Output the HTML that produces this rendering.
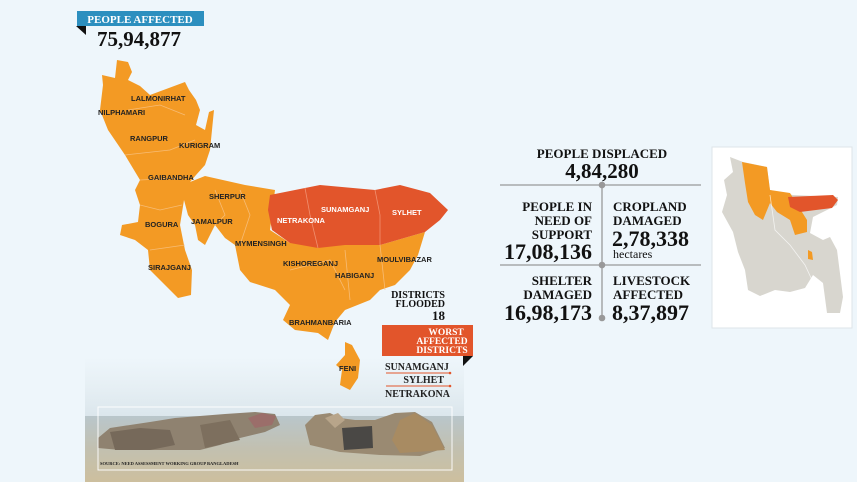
<!DOCTYPE html>
<html><head><meta charset="utf-8"><style>
html,body{margin:0;padding:0;background:#eef6fb;}
svg{display:block}
text{font-family:"Liberation Serif",serif;font-weight:bold;}
.d text{font-family:"Liberation Sans",sans-serif;font-weight:bold;font-size:7.5px;fill:#222;}
.w text{fill:#fff;}
</style></head><body>
<svg width="857" height="482" viewBox="0 0 857 482" xmlns="http://www.w3.org/2000/svg">
<defs>
<linearGradient id="sky" x1="0" y1="0" x2="0" y2="1"><stop offset="0" stop-color="#eef6fb"/><stop offset="0.5" stop-color="#e6eff4"/><stop offset="1" stop-color="#dbe6ec"/></linearGradient>
<linearGradient id="wat" x1="0" y1="0" x2="0" y2="1"><stop offset="0" stop-color="#b9c6cb"/><stop offset="0.5" stop-color="#c2c0b0"/><stop offset="1" stop-color="#cdbf9e"/></linearGradient>
</defs>
<rect width="857" height="482" fill="#eef6fb"/>
<!-- header -->
<rect x="77" y="11" width="127" height="15" fill="#2c8fbf"/>
<text x="140" y="23" font-size="11" fill="#fff" text-anchor="middle">PEOPLE AFFECTED</text>
<polygon points="76,26 86,26 86,35" fill="#111"/>
<text x="97" y="46" font-size="21" fill="#111">75,94,877</text>
<!-- photo -->
<rect x="85" y="357" width="379" height="60" fill="url(#sky)"/>
<rect x="85" y="416" width="379" height="66" fill="url(#wat)"/>
<polygon points="98,438 110,428 130,425 150,422 175,418 200,416 225,414 255,412 275,414 280,425 265,432 240,438 220,445 200,450 160,450 120,450 98,448" fill="#8f8270"/>
<polygon points="110,432 140,428 170,430 175,445 150,450 115,450" fill="#76695a"/>
<polygon points="200,425 230,420 240,440 205,448" fill="#7d6f5e"/>
<polygon points="248,418 262,413 276,416 272,425 255,428" fill="#9b6e6a"/>
<polygon points="305,425 315,415 330,413 340,418 355,420 375,420 395,413 415,412 432,422 445,448 420,456 380,455 340,452 310,445" fill="#9a8a72"/>
<polygon points="392,440 400,420 415,413 432,425 445,450 400,453" fill="#a88b62"/>
<polygon points="342,428 372,426 373,448 344,450" fill="#4a4845"/>
<polygon points="325,418 338,413 345,420 335,428" fill="#b8a58a"/>
<rect x="98" y="407" width="354" height="63" fill="none" stroke="#fff" stroke-width="1" opacity="0.9"/>
<text x="100" y="465" font-family="Liberation Sans" font-size="4.5" fill="#222">SOURCE: NEED ASSESSMENT WORKING GROUP BANGLADESH</text>
<!-- main map orange -->
<polygon fill="#f39a24" points="117,60 128,62 132,72 128,80 140,86 150,95 185,82 189,90 196,100 200,110 196,125 205,130 209,112 214,110 210,150 205,165 196,175 190,182 205,176 245,185 275,190 270,230 290,243 380,245 425,232 418,255 410,270 395,285 380,290 370,300 345,310 335,322 328,340 318,333 295,330 283,320 290,305 275,290 250,282 240,270 235,245 225,238 215,225 205,245 198,240 195,225 188,215 184,200 180,225 185,250 192,270 191,295 178,298 165,285 150,270 148,250 135,240 120,235 122,225 138,222 140,205 135,190 140,180 125,155 108,130 100,110 103,85 102,75 115,78"/>
<polygon fill="#f39a24" points="345,342 352,345 360,360 358,378 350,390 340,385 342,370 336,365 345,355"/>
<polygon fill="#e2552b" points="270,195 305,188 320,185 375,190 400,185 430,193 448,210 440,220 425,232 380,245 345,245 318,248 290,243 272,230 268,210"/>
<g fill="none" stroke="#f7c48a" stroke-width="0.8" opacity="0.8">
<path d="M128,110 L160,105 L185,115 M125,155 L170,150 L195,140 M140,180 L180,178 M140,205 L160,210 L182,205 M150,250 L185,245 M215,190 L225,215 L215,225 M240,190 L250,215 L240,245 M290,270 L330,260 L345,290 M345,250 L350,300 M380,245 L385,290"/>
</g>
<path d="M305,188 L310,215 L318,248 M375,190 L380,215 L380,245" stroke="#f09070" stroke-width="0.8" fill="none"/>
<g class="d">
<text x="131" y="101">LALMONIRHAT</text>
<text x="98" y="115">NILPHAMARI</text>
<text x="130" y="141">RANGPUR</text>
<text x="179" y="148">KURIGRAM</text>
<text x="148" y="180">GAIBANDHA</text>
<text x="209" y="199">SHERPUR</text>
<text x="145" y="227">BOGURA</text>
<text x="191" y="224">JAMALPUR</text>
<text x="235" y="246">MYMENSINGH</text>
<text x="148" y="270">SIRAJGANJ</text>
<text x="283" y="266">KISHOREGANJ</text>
<text x="335" y="278">HABIGANJ</text>
<text x="377" y="262">MOULVIBAZAR</text>
<text x="289" y="325">BRAHMANBARIA</text>
<text x="339" y="371">FENI</text>
</g>
<g class="d w">
<text x="277" y="223">NETRAKONA</text>
<text x="321" y="212">SUNAMGANJ</text>
<text x="392" y="215">SYLHET</text>
</g>
<text x="445" y="298" font-size="10" fill="#111" text-anchor="end">DISTRICTS</text>
<text x="445" y="307" font-size="10" fill="#111" text-anchor="end">FLOODED</text>
<text x="445" y="320" font-size="13" fill="#111" text-anchor="end">18</text>
<!-- worst box -->
<rect x="382" y="325" width="91" height="31" fill="#e2552b"/>
<text x="446" y="335" font-size="9.5" fill="#fff" text-anchor="middle">WORST</text>
<text x="442" y="344" font-size="9.5" fill="#fff" text-anchor="middle">AFFECTED</text>
<text x="442" y="353" font-size="9.5" fill="#fff" text-anchor="middle">DISTRICTS</text>
<polygon points="463,356 473,356 463,366" fill="#111"/>
<text x="385" y="370" font-size="10" fill="#222">SUNAMGANJ</text>
<line x1="386" y1="373" x2="450" y2="373" stroke="#e2552b" stroke-width="1"/>
<circle cx="450" cy="373" r="1.3" fill="#e2552b"/>
<text x="444" y="383" font-size="10" fill="#222" text-anchor="end">SYLHET</text>
<line x1="386" y1="386" x2="450" y2="386" stroke="#e2552b" stroke-width="1"/>
<circle cx="450" cy="386" r="1.3" fill="#e2552b"/>
<text x="385" y="397" font-size="10" fill="#222">NETRAKONA</text>
<!-- stats -->
<g fill="#111">
<text x="602" y="158" font-size="13" text-anchor="middle">PEOPLE DISPLACED</text>
<text x="602" y="178" font-size="21" text-anchor="middle">4,84,280</text>
<text x="592" y="211" font-size="13" text-anchor="end">PEOPLE IN</text>
<text x="592" y="225" font-size="13" text-anchor="end">NEED OF</text>
<text x="592" y="239" font-size="13" text-anchor="end">SUPPORT</text>
<text x="592" y="259" font-size="22" text-anchor="end">17,08,136</text>
<text x="613" y="211" font-size="13">CROPLAND</text>
<text x="613" y="225" font-size="13">DAMAGED</text>
<text x="612" y="246" font-size="22">2,78,338</text>
<text x="613" y="258" font-size="12" style="font-weight:normal">hectares</text>
<text x="592" y="285" font-size="13" text-anchor="end">SHELTER</text>
<text x="592" y="299" font-size="13" text-anchor="end">DAMAGED</text>
<text x="592" y="320" font-size="22" text-anchor="end">16,98,173</text>
<text x="613" y="285" font-size="13">LIVESTOCK</text>
<text x="613" y="299" font-size="13">AFFECTED</text>
<text x="612" y="320" font-size="22">8,37,897</text>
</g>
<g stroke="#999" stroke-width="1.3">
<line x1="500" y1="185" x2="701" y2="185"/>
<line x1="500" y1="265" x2="701" y2="265"/>
<line x1="602" y1="185" x2="602" y2="318"/>
</g>
<g fill="#999"><circle cx="602" cy="185" r="3.3"/><circle cx="602" cy="265" r="3.3"/><circle cx="602" cy="318" r="3.3"/></g>
<!-- mini map -->
<rect x="712" y="147" width="140" height="181" fill="#fff" stroke="#dde4e8"/>
<polygon fill="#d8d6cf" points="730,157 743,162 767,167 770,190 793,195 838,197 837,205 813,217 810,233 823,240 830,237 837,250 843,297 840,313 827,313 823,283 813,275 805,288 790,292 775,290 760,296 748,290 745,270 738,252 733,232 722,212 727,195 724,180 733,172"/>
<polygon fill="#f39a24" points="742,162 767,167 770,190 790,193 807,220 807,232 795,235 790,220 777,212 770,203 763,220 755,215 748,202 745,183"/>
<polygon fill="#e2552b" points="788,197 833,195 838,200 832,208 800,212 790,207"/>
<polygon fill="#f39a24" points="808,250 812,252 813,260 808,259"/>
<path d="M770,195 L775,230 L790,245 L805,265 L812,280" stroke="#fff" stroke-width="0.8" fill="none" opacity="0.7"/>
</svg>
</body></html>
